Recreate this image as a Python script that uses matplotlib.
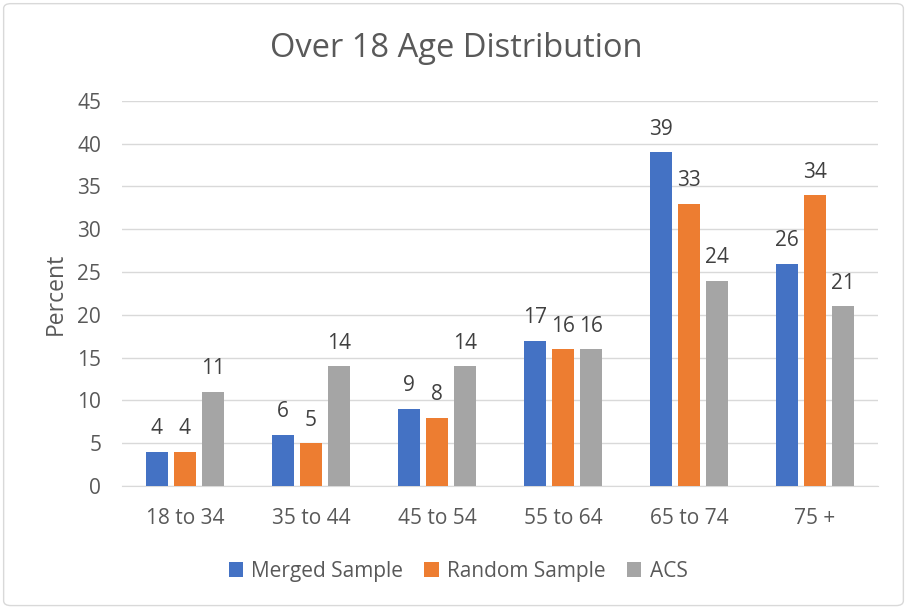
import matplotlib
matplotlib.use("Agg")
import matplotlib.pyplot as plt
import numpy as np
from matplotlib.patches import FancyBboxPatch

categories = ["18 to 34", "35 to 44", "45 to 54", "55 to 64", "65 to 74", "75 +"]
merged = [4, 6, 9, 17, 39, 26]
random_s = [4, 5, 8, 16, 33, 34]
acs = [11, 14, 14, 16, 24, 21]
series_names = ["Merged Sample", "Random Sample", "ACS"]
colors = ["#4472C4", "#ED7D31", "#A5A5A5"]
yticks = [0, 5, 10, 15, 20, 25, 30, 35, 40, 45]

plt.rcParams['font.family'] = ['Open Sans', 'DejaVu Sans']
txt = "#595959"

fig = plt.figure(figsize=(9.07, 6.08), dpi=100)
fig.patches.append(FancyBboxPatch((0.004, 0.004), 0.992, 0.99, boxstyle="round,pad=0,rounding_size=0.008",
                                  transform=fig.transFigure, fill=False, edgecolor="#D9D9D9", linewidth=1))
ax = fig.add_axes([0.1345, 0.2007, 0.8335, 0.6333])

x = np.arange(len(categories))
w = 0.175
off = 0.225
for i, (vals, name, c) in enumerate(zip([merged, random_s, acs], series_names, colors)):
    bars = ax.bar(x + (i - 1) * off, vals, w, color=c, label=name, zorder=3)
    for b, v in zip(bars, vals):
        ax.annotate(str(v), (b.get_x() + b.get_width() / 2, v), xytext=(0, 9),
                    textcoords="offset points", ha="center", va="bottom", fontsize=15, color="#404040")

ax.set_ylim(0, 45)
ax.set_xlim(-0.5, len(categories) - 0.5)
ax.set_yticks(yticks)
ax.set_yticklabels([str(t) for t in yticks])
ax.set_xticks(x)
ax.set_xticklabels(categories)
ax.tick_params(axis='both', length=0, labelsize=15, labelcolor=txt)
ax.tick_params(axis='y', pad=15)
ax.tick_params(axis='x', pad=16)
ax.grid(axis='y', color="#D9D9D9", linewidth=1, zorder=0)
for s in ["top", "right", "left"]:
    ax.spines[s].set_visible(False)
ax.spines["bottom"].set_color("#D9D9D9")
ax.set_ylabel("Percent", fontsize=16.5, color=txt, labelpad=7)

fig.text(0.503, 0.92, "Over 18 Age Distribution", ha="center", va="center", fontsize=23.5, color=txt)
fig.legend(loc="center", bbox_to_anchor=(0.505, 0.06), ncol=3, frameon=False, fontsize=15,
           handlelength=0.7, handleheight=0.7, handletextpad=0.4, columnspacing=1.0,
           labelcolor=txt)

fig.savefig("out.png", dpi=100)
